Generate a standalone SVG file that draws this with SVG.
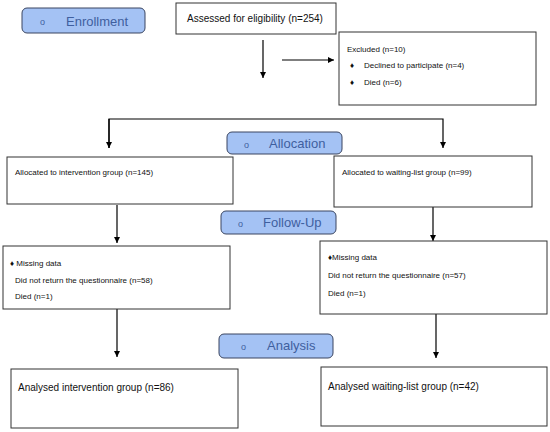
<svg xmlns="http://www.w3.org/2000/svg" width="550" height="432" viewBox="0 0 550 432">
<defs>
<marker id="ah" viewBox="0 0 10 10" refX="10" refY="5" markerWidth="6" markerHeight="6" orient="auto" markerUnits="userSpaceOnUse">
<path d="M0,0 L10,5 L0,10 z" fill="#000"/>
</marker>
<style>
.box{fill:#fff;stroke:#333;stroke-width:1}
.pill{fill:#a4c2f4;stroke:#3a4560;stroke-width:1}
.pt{font-family:"Liberation Sans",Arial,sans-serif;font-size:13px;fill:#3f5f9f}
.po{font-family:"Liberation Sans",Arial,sans-serif;font-size:9px;fill:#3f5f9f}
.t10{font-family:"Liberation Sans",Arial,sans-serif;font-size:10px;fill:#111}
.t8{font-family:"Liberation Sans",Arial,sans-serif;font-size:8px;fill:#111}
.ln{fill:none;stroke:#000;stroke-width:1.2}
</style>
</defs>
<rect width="550" height="432" fill="#fff"/>
<g id="connectors">
<path class="ln" d="M263,40 V78" marker-end="url(#ah)"/>
<path class="ln" d="M282,60 H334" marker-end="url(#ah)"/>
<path class="ln" d="M109,148 V119 H443 V148" marker-end="url(#ah)"/>
<path class="ln" d="M109,119 V148" marker-end="url(#ah)"/>
<path class="ln" d="M117,205 V243" marker-end="url(#ah)"/>
<path class="ln" d="M433,207 V241" marker-end="url(#ah)"/>
<path class="ln" d="M117,309 V357" marker-end="url(#ah)"/>
<path class="ln" d="M436,314 V358" marker-end="url(#ah)"/>
</g>
<g id="enrollment">
<rect class="pill" x="22" y="8" width="123" height="25" rx="5"/>
<text class="po" x="40" y="25">o</text>
<text class="pt" x="66" y="25.5">Enrollment</text>
</g>
<g id="assessed">
<rect class="box" x="176" y="3" width="160" height="31"/>
<text class="t10" x="187" y="22">Assessed for eligibility (n=254)</text>
</g>
<g id="excluded">
<rect class="box" x="339" y="32" width="197" height="73"/>
<text class="t8" x="347" y="52">Excluded (n=10)</text>
<text class="t8" x="350" y="68">♦</text>
<text class="t8" x="364" y="68">Declined to participate (n=4)</text>
<text class="t8" x="350" y="85">♦</text>
<text class="t8" x="364" y="85">Died (n=6)</text>
</g>
<g id="allocation">
<rect class="pill" x="227" y="132" width="115" height="22" rx="5"/>
<text class="po" x="244" y="148">o</text>
<text class="pt" x="269" y="148">Allocation</text>
</g>
<g id="alloc-intervention">
<rect class="box" x="7" y="157" width="226" height="47"/>
<text class="t8" x="15" y="175">Allocated to intervention group (n=145)</text>
</g>
<g id="alloc-waiting">
<rect class="box" x="334" y="156" width="198" height="51"/>
<text class="t8" x="342" y="175">Allocated to waiting-list group (n=99)</text>
</g>
<g id="followup">
<rect class="pill" x="221" y="211" width="115" height="23" rx="5"/>
<text class="po" x="238" y="227">o</text>
<text class="pt" x="263" y="227">Follow-Up</text>
</g>
<g id="followup-intervention">
<rect class="box" x="3" y="246" width="227" height="63"/>
<text class="t8" x="10" y="266">♦ Missing data</text>
<text class="t8" x="15" y="283">Did not return the questionnaire (n=58)</text>
<text class="t8" x="15" y="299">Died (n=1)</text>
</g>
<g id="followup-waiting">
<rect class="box" x="320" y="241" width="227" height="73"/>
<text class="t8" x="328" y="260">♦Missing data</text>
<text class="t8" x="328" y="278">Did not return the questionnaire (n=57)</text>
<text class="t8" x="328" y="296">Died (n=1)</text>
</g>
<g id="analysis">
<rect class="pill" x="219" y="334" width="114" height="24" rx="5"/>
<text class="po" x="241" y="350">o</text>
<text class="pt" x="267" y="350">Analysis</text>
</g>
<g id="analysed-intervention">
<rect class="box" x="11" y="369" width="227" height="59"/>
<text class="t10" x="18" y="391">Analysed intervention group (n=86)</text>
</g>
<g id="analysed-waiting">
<rect class="box" x="321" y="367" width="226" height="59"/>
<text class="t10" x="328" y="390">Analysed waiting-list group (n=42)</text>
</g>
</svg>
